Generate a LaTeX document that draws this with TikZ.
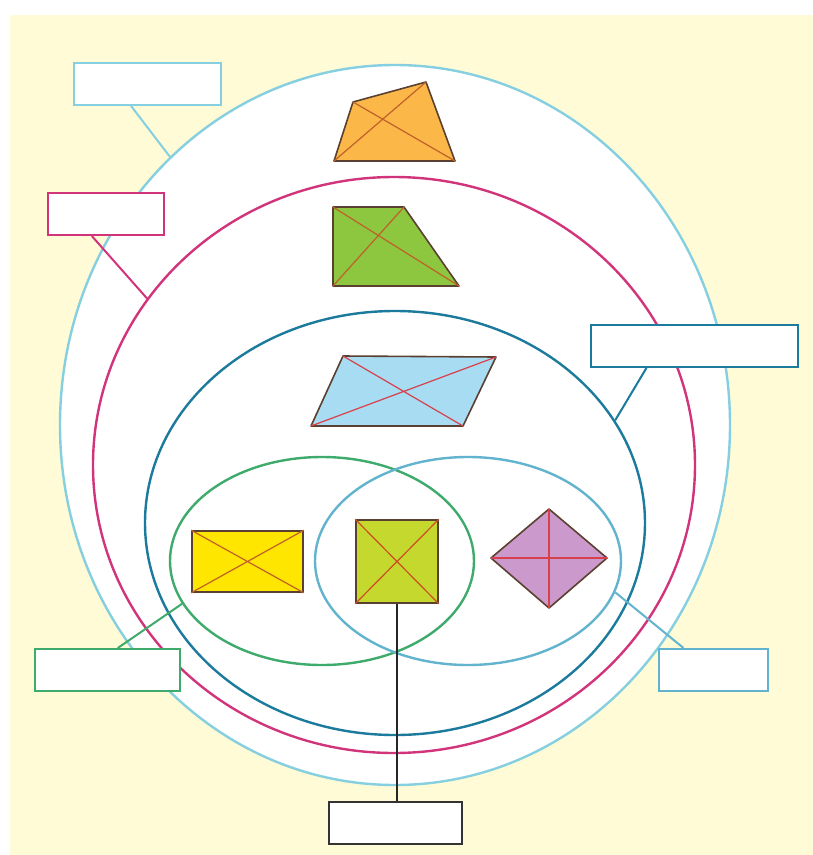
\documentclass[tikz,border=0pt]{standalone}
\usepackage{tikz}
\usetikzlibrary{shapes.geometric,positioning,calc}
\definecolor{bgyellow}{HTML}{FEFBD6}
\definecolor{cyanring}{HTML}{85CFE0}
\definecolor{magring}{HTML}{D2347C}
\definecolor{tealring}{HTML}{1C7A9C}
\definecolor{greenring}{HTML}{3EAA6C}
\definecolor{bluering}{HTML}{62B4CE}
\definecolor{edgebrown}{HTML}{5A4030}
\definecolor{orangefill}{HTML}{FBB848}
\definecolor{kitefill}{HTML}{8DC63F}
\definecolor{parafill}{HTML}{A8DCF2}
\definecolor{rectfill}{HTML}{FFE600}
\definecolor{sqfill}{HTML}{C5D82E}
\definecolor{rhombfill}{HTML}{CC99CC}
\definecolor{diagred}{HTML}{D8404C}
\definecolor{diagbrown}{HTML}{C0602A}

\begin{document}
\begin{tikzpicture}[x=1pt,y=-1pt,
    ring/.style={ellipse,draw,inner sep=0pt,line width=2.4pt},
    tagbox/.style={draw,fill=white,line width=2pt,inner sep=0pt,minimum height=42pt},
    tagline/.style={line width=2pt},
    figline/.style={draw=edgebrown,line width=1.6pt,line join=round},
    diag/.style={line width=1.2pt}]
    \useasboundingbox (0,0) rectangle (813,855);
    \fill[bgyellow] (10,15) rectangle (813,855);
    % nested sets
    \node[ring,draw=cyanring,fill=white,minimum width=670pt,minimum height=720pt] (outer) at (395,425) {};
    \node[ring,draw=magring,fill=white,minimum width=602pt,minimum height=576pt] (trap) at (394,465) {};
    \node[ring,draw=tealring,fill=white,minimum width=500pt,minimum height=424pt] (para) at (395,523) {};
    \node[ring,draw=greenring,minimum width=304pt,minimum height=208pt] (rect) at (322,561) {};
    \node[ring,draw=bluering,minimum width=306pt,minimum height=208pt] (rhomb) at (468,561) {};
    % shapes
    \filldraw[figline,fill=orangefill] (334,161) -- (353,102) -- (426,82) -- (455,161) -- cycle;
    \draw[diag,diagbrown] (334,161) -- (426,82) (353,102) -- (455,161);
    \filldraw[figline,fill=kitefill] (333,207) -- (404,207) -- (459,286) -- (333,286) -- cycle;
    \draw[diag,diagbrown] (333,207) -- (459,286) (404,207) -- (333,286);
    \filldraw[figline,fill=parafill] (343,356) -- (496,357) -- (463,426) -- (311,426) -- cycle;
    \draw[diag,diagred] (343,356) -- (463,426) (496,357) -- (311,426);
    \node[figline,fill=rectfill,minimum width=111pt,minimum height=61pt,inner sep=0pt] (yrect) at (247.5,561.5) {};
    \draw[diag,diagbrown] (yrect.north west) -- (yrect.south east) (yrect.north east) -- (yrect.south west);
    \node[figline,fill=sqfill,minimum width=82pt,minimum height=83pt,inner sep=0pt] (osq) at (397,561.5) {};
    \draw[diag,diagbrown!80!red] (osq.north west) -- (osq.south east) (osq.north east) -- (osq.south west);
    \filldraw[figline,fill=rhombfill] (491,558) -- (549,509) -- (607,558) -- (549,608) -- cycle;
    \draw[diag,diagred] (491,558) -- (607,558) (549,509) -- (549,608);
    % labels
    \node[tagbox,draw=cyanring,minimum width=147pt] (tagA) at (147.5,84) {};
    \node[tagbox,draw=magring,minimum width=116pt] (tagB) at (106,214) {};
    \node[tagbox,draw=tealring,minimum width=207pt] (tagC) at (694.5,346) {};
    \node[tagbox,draw=greenring,minimum width=145pt] (tagD) at (107.5,670) {};
    \node[tagbox,draw=bluering,minimum width=109pt] (tagE) at (713.5,670) {};
    \node[tagbox,draw=black!80,minimum width=133pt] (tagF) at (395,823) {};
    \draw[tagline,cyanring] ($(tagA.south west)!0.39!(tagA.south east)$) -- (outer.130);
    \draw[tagline,magring] ($(tagB.south west)!0.38!(tagB.south east)$) -- (trap.146);
    \draw[tagline,tealring] ($(tagC.south west)!0.27!(tagC.south east)$) -- (para.25);
    \draw[tagline,greenring] ($(tagD.north west)!0.57!(tagD.north east)$) -- (rect.197);
    \draw[tagline,bluering] ($(tagE.north west)!0.23!(tagE.north east)$) -- (rhomb.348);
    \draw[black!85,line width=1.5pt] (osq.south) -- (osq.south |- tagF.north);
\end{tikzpicture}
\end{document}
